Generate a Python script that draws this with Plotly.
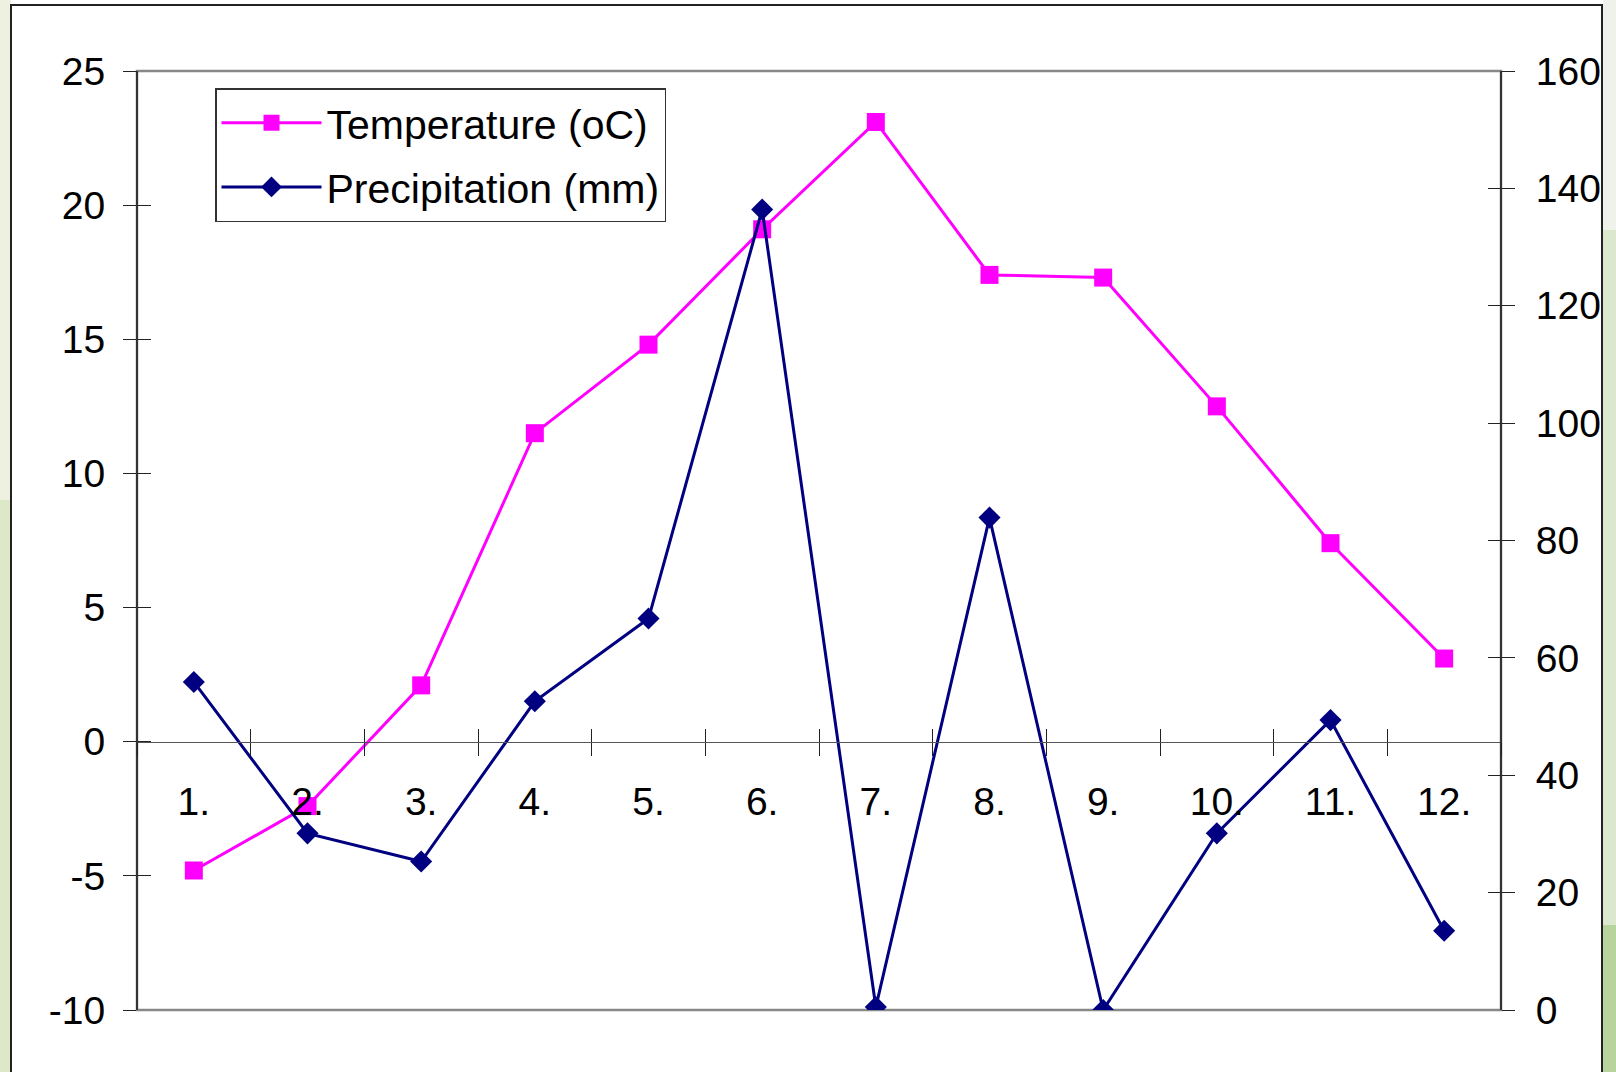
import plotly.graph_objects as go

months = ["1.", "2.", "3.", "4.", "5.", "6.", "7.", "8.", "9.", "10.", "11.", "12."]
temperature = [-4.8, -2.4, 2.1, 11.5, 14.8, 19.1, 23.1, 17.4, 17.3, 12.5, 7.4, 3.1]
precipitation = [55.9, 30.1, 25.3, 52.6, 66.7, 136.4, 0.5, 83.9, 0.0, 30.1, 49.4, 13.5]

left_ticks = [-10, -5, 0, 5, 10, 15, 20, 25]
left_tick_text = ["-10", "-5", "0", "5", "10", "15", "20", "25"]
right_ticks = [0, 20, 40, 60, 80, 100, 120, 140, 160]
right_tick_text = ["0", "20", "40", "60", "80", "100", "120", "140", "160"]

temp_name = "Temperature (oC)"
prec_name = "Precipitation (mm)"

FONT = "Liberation Sans, Arial, sans-serif"
W, H = 1616, 1072
ML, MR, MT, MB = 137, 115, 71, 62
PW = W - ML - MR
PH = H - MT - MB


def px_x(p):
    return (p - ML) / PW


def px_y(q):
    return (H - MB - q) / PH


fig = go.Figure()
fig.add_trace(go.Scatter(
    x=months, y=temperature, name=temp_name, mode="lines+markers",
    line=dict(color="#FF00FF", width=3),
    marker=dict(symbol="square", size=18, color="#FF00FF"),
    xaxis="x", yaxis="y", legendgroup="t",
))
fig.add_trace(go.Scatter(
    x=months, y=precipitation, name=prec_name, mode="lines+markers",
    line=dict(color="#000080", width=3),
    marker=dict(symbol="diamond", size=17, color="#000080"),
    xaxis="x2", yaxis="y2", legendgroup="p",
))
# helper traces so that the inward tick axes are drawn
fig.add_trace(go.Scatter(x=months, y=[None] * 12, xaxis="x", yaxis="y3",
                         showlegend=False, hoverinfo="skip"))
fig.add_trace(go.Scatter(x=months, y=[None] * 12, xaxis="x2", yaxis="y4",
                         showlegend=False, hoverinfo="skip"))

tick_common = dict(tickcolor="#222", tickwidth=1, showgrid=False, zeroline=False)
TICKFONT = dict(size=39, family=FONT, color="black")

fig.update_layout(
    width=W, height=H,
    margin=dict(l=ML, r=MR, t=MT, b=MB),
    paper_bgcolor="white", plot_bgcolor="white",
    font=dict(family=FONT, size=39, color="black"),
    showlegend=True,
    legend=dict(
        x=px_x(215), y=px_y(88), xanchor="left", yanchor="top",
        bordercolor="#333", borderwidth=1.5, bgcolor="white",
        font=dict(size=41, family=FONT, color="black"),
        traceorder="grouped", tracegroupgap=8, itemwidth=100,
    ),
    xaxis=dict(
        type="category", categoryarray=months, categoryorder="array",
        range=[-0.5, 11.5], tickson="boundaries", ticks="outside", ticklen=13,
        showline=True, linecolor="#555", linewidth=1,
        anchor="free", position=10 / 35, ticklabelstandoff=25,
        tickfont=TICKFONT, **tick_common,
    ),
    xaxis2=dict(
        type="category", categoryarray=months, categoryorder="array",
        overlaying="x", matches="x", tickson="boundaries", ticks="inside",
        ticklen=13, showticklabels=False, showline=False,
        anchor="free", position=10 / 35, **tick_common,
    ),
    yaxis=dict(
        range=[-10, 25], tickvals=left_ticks, ticktext=left_tick_text,
        ticks="outside", ticklen=13,
        showline=True, linecolor="#333", linewidth=2,
        anchor="free", position=0, side="left", ticklabelstandoff=10,
        tickfont=TICKFONT, **tick_common,
    ),
    yaxis3=dict(
        overlaying="y", matches="y", side="left", ticks="inside", ticklen=13,
        tickvals=left_ticks, showticklabels=False, showline=False,
        anchor="free", position=0, **tick_common,
    ),
    yaxis2=dict(
        range=[0, 160], tickvals=right_ticks, ticktext=right_tick_text,
        overlaying="y", side="right",
        ticks="outside", ticklen=13, showline=True, linecolor="#333", linewidth=2,
        anchor="free", position=1, ticklabelstandoff=13,
        tickfont=TICKFONT, **tick_common,
    ),
    yaxis4=dict(
        overlaying="y", matches="y2", side="right", ticks="inside", ticklen=13,
        tickvals=right_ticks, showticklabels=False, showline=False,
        anchor="free", position=1, **tick_common,
    ),
    shapes=[
        # left background strip
        dict(type="rect", xref="paper", yref="paper", x0=px_x(0), x1=px_x(11),
             y0=px_y(500), y1=px_y(0), fillcolor="#eef0e0", line=dict(width=0),
             layer="below"),
        dict(type="rect", xref="paper", yref="paper", x0=px_x(0), x1=px_x(11),
             y0=px_y(H), y1=px_y(500), fillcolor="#dde8c8", line=dict(width=0),
             layer="below"),
        # right background strip
        dict(type="rect", xref="paper", yref="paper", x0=px_x(1603), x1=px_x(W),
             y0=px_y(230), y1=px_y(0), fillcolor="#eef2ea", line=dict(width=0),
             layer="below"),
        dict(type="rect", xref="paper", yref="paper", x0=px_x(1603), x1=px_x(W),
             y0=px_y(925), y1=px_y(230), fillcolor="#dbe8cd", line=dict(width=0),
             layer="below"),
        dict(type="rect", xref="paper", yref="paper", x0=px_x(1603), x1=px_x(W),
             y0=px_y(H), y1=px_y(925), fillcolor="#b6d49b", line=dict(width=0),
             layer="below"),
        # outer white frame
        dict(type="rect", xref="paper", yref="paper", x0=px_x(11), x1=px_x(1602),
             y0=px_y(H + 10), y1=px_y(5), fillcolor="rgba(0,0,0,0)",
             line=dict(color="#222", width=2), layer="below"),
        # plot area border (top / bottom grey)
        dict(type="rect", xref="paper", yref="paper", x0=0, x1=1, y0=0, y1=1,
             fillcolor="rgba(0,0,0,0)", line=dict(color="#888", width=2.5),
             layer="below"),
    ],
)

fig.write_html("out.html")
